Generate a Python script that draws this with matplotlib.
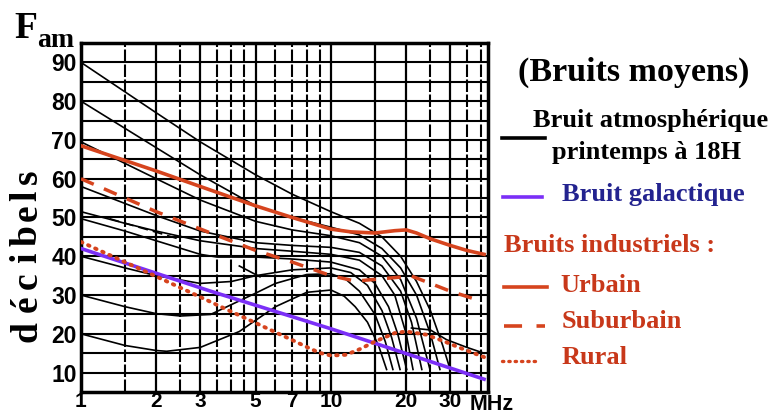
import matplotlib.pyplot as plt

# Atmospheric noise curves (spring, 18H)
c1_x = [1, 2, 3, 5, 7, 10, 13, 16, 19, 22, 25, 28, 30]
c1_y = [90, 77, 69.5, 61, 56, 51.5, 48.5, 45, 40, 33.5, 26, 17, 10.8]
c2_x = [1, 2, 3, 5, 7, 10, 13, 16, 19, 22, 25, 27.3]
c2_y = [80, 68, 61, 53, 50, 47.5, 45.5, 42, 37, 30, 20, 10.8]
c3_x = [1, 2, 3, 5, 7, 10, 13, 16, 19, 22, 24.9]
c3_y = [69.5, 60, 54.5, 49, 46.8, 45.3, 43.5, 40, 34, 24, 10.8]
c4_x = [1, 2, 3, 5, 7, 10, 13, 16, 19, 21, 23.1]
c4_y = [58, 50.5, 46.5, 43.5, 42.8, 42.3, 41, 37.5, 31, 23, 10.8]
c5_x = [1, 1.5, 2, 3, 5, 7, 10, 13, 16, 18, 20, 21.3]
c5_y = [51.5, 48.5, 46.5, 44, 42, 41.3, 40.5, 39, 35, 30, 20, 10.8]
c6_x = [1, 1.5, 2, 3, 3.5, 5, 7, 10, 13, 15, 17, 18.5, 20.1]
c6_y = [49.7, 46.5, 44, 40.5, 39.8, 39.8, 39.3, 38.5, 36.5, 33, 27, 20, 10.8]
c7_x = [1, 1.5, 2, 3, 4, 5, 7, 10, 12, 14, 16, 17.5, 18.9]
c7_y = [40, 37, 35, 33, 33.5, 35, 36.5, 37, 35.8, 32.5, 26, 19, 10.8]
c8_x = [1, 1.5, 2, 2.5, 3.3, 4.3, 5, 6, 8, 10, 11.5, 13, 15, 16.5, 17.7]
c8_y = [30, 27, 25.2, 24.6, 25, 28.5, 30.5, 33, 35.3, 35.5, 34, 31, 25, 18, 10.8]
c9_x = [1, 1.5, 2, 2.2, 3, 4.3, 5, 6, 8, 10, 11.3, 12.5, 14, 15.5, 16.7]
c9_y = [20, 17, 15.7, 15.5, 16.5, 20.6, 23.5, 27, 30.7, 31.3, 29.7, 27, 23, 17, 10.8]
c10_x = [21, 25, 29, 35, 41]
c10_y = [21.5, 21, 18.5, 16.5, 15]
c11_x = [1.3, 1.6, 2.0, 2.45]
c11_y = [49.7, 48, 46.2, 44.5]
c12_x = [4.3, 5.2]
c12_y = [37.5, 34.7]
atmo = [(c1_x, c1_y), (c2_x, c2_y), (c3_x, c3_y), (c4_x, c4_y), (c5_x, c5_y),
        (c6_x, c6_y), (c7_x, c7_y), (c8_x, c8_y), (c9_x, c9_y), (c10_x, c10_y),
        (c12_x, c12_y)]

# Galactic noise
gal_x = [1, 3.3, 10, 41]
gal_y = [42, 31, 21.3, 8.3]

# Industrial noise
urb_x = [1, 2, 3, 5, 7, 10, 12, 15, 18, 20, 22, 25, 30, 35, 41]
urb_y = [68.5, 62, 58, 53, 50, 47, 46.3, 46, 46.6, 46.8, 46, 44.5, 42.8, 41.5, 40.5]
sub_x = [1, 2, 3.3, 5, 7, 10, 12.5, 16, 21, 25, 30, 37.5]
sub_y = [60, 51.5, 46, 41.5, 38.5, 35, 33.6, 34.2, 34.9, 33, 31, 29]
rur_x = [1, 2, 3, 4, 5, 6, 7, 8, 9, 10, 11.5, 13, 15, 18, 20, 24, 28, 34, 41]
rur_y = [43.7, 34.8, 29.5, 25.7, 22.8, 20.4, 18.4, 16.6, 15.1, 14.4, 14.6, 16, 18, 20.2, 20.6,
         19.8, 18.2, 16, 14]

x_ticks = [1, 2, 3, 5, 7, 10, 20, 30]
y_ticks = [10, 20, 30, 40, 50, 60, 70, 80, 90]

RED = '#d6441e'
BLUE = '#7b2ff7'
TXT_RED = '#c8381a'
SERIF = 'Liberation Serif'
SANS = 'Liberation Sans'

fig = plt.figure(figsize=(7.77, 4.16), dpi=100)
ax = fig.add_axes([81 / 777, 1 - 392 / 416, 407 / 777, 349 / 416])
ax.set_xscale('log')
ax.set_xlim(1, 42.5)
ax.set_ylim(5, 95)

# grid: solid main lines, dashed intermediate ones
for v in [2, 3, 5, 10, 15, 20, 30]:
    ax.axvline(v, color='black', lw=1.6, zorder=1)
for v in [1.5, 2.5, 3.5, 4, 4.5, 6, 7, 8, 9, 25, 35, 40]:
    ax.axvline(v, color='black', lw=1.5, ls=(0, (6, 1.2)), zorder=1)
for v in range(10, 95, 5):
    ax.axhline(v, color='black', lw=1.5, zorder=1)

for xs, ys in atmo:
    ax.plot(xs, ys, color='black', lw=1.2, zorder=2)
ax.plot(c11_x, c11_y, color='black', lw=1.2, ls=(0, (6, 3)), zorder=2)

ax.plot(gal_x, gal_y, color=BLUE, lw=2.6, zorder=3)
ax.plot(urb_x, urb_y, color=RED, lw=2.6, zorder=3)
ax.plot(sub_x, sub_y, color=RED, lw=2.5, ls=(0, (4, 3.2)), zorder=3)
ax.plot(rur_x, rur_y, color=RED, lw=2.8, ls=(0, (0.4, 1.6)), dash_capstyle='round', zorder=3)

ax.set_xticks(x_ticks)
ax.set_xticklabels([str(v) for v in x_ticks])
ax.minorticks_off()
ax.set_yticks(y_ticks)
ax.tick_params(axis='y', length=0, labelsize=16.5, pad=3)
ax.tick_params(axis='x', length=0, labelsize=15, pad=0.3)
for lab in ax.get_xticklabels() + ax.get_yticklabels():
    lab.set_fontfamily(SANS)
    lab.set_fontweight('bold')
for s in ax.spines.values():
    s.set_linewidth(2.5)

# overlay in pixel coordinates for the labels and the key
lg = fig.add_axes([0, 0, 1, 1], zorder=5)
lg.set_xlim(0, 777)
lg.set_ylim(416, 0)
lg.axis('off')

lg.text(470, 405, 'MHz', family=SANS, weight='bold', fontsize=15.5, va='center', ha='left')
lg.text(14, 38, 'F', family=SERIF, weight='bold', fontsize=27, va='baseline')
lg.text(37, 47, 'am', family=SERIF, weight='bold', fontsize=20, va='baseline')
# vertical, letter-spaced axis title
for ch, yc in zip('décibels', [332, 304, 281, 258, 236, 213, 196, 177]):
    lg.text(27, yc, ch, family=SERIF, weight='bold', fontsize=27,
            rotation=90, ha='center', va='center')

lg.text(518, 72, '(Bruits moyens)', family=SERIF, weight='bold', fontsize=24.5, va='center')
lg.plot([502, 545], [138, 138], color='black', lw=2.6)
lg.text(533, 120, 'Bruit atmosphérique', family=SERIF, weight='bold', fontsize=19, va='center')
lg.text(552, 153, 'printemps à 18H', family=SERIF, weight='bold', fontsize=19, va='center')
lg.plot([503, 542], [197, 197], color=BLUE, lw=2.6)
lg.text(562, 195, 'Bruit galactique', family=SERIF, weight='bold', fontsize=19,
        color='#23238f', va='center')
lg.text(504, 246, 'Bruits industriels :', family=SERIF, weight='bold', fontsize=19,
        color=TXT_RED, va='center')
lg.plot([504, 547], [287, 287], color=RED, lw=2.6)
lg.text(560, 285, 'Urbain', family=SERIF, weight='bold', fontsize=19, color=TXT_RED, va='center')
lg.plot([504, 545], [326, 326], color=RED, lw=2.6, ls=(0, (5, 4)))
lg.text(562, 322, 'Suburbain', family=SERIF, weight='bold', fontsize=19, color=TXT_RED, va='center')
lg.plot([502, 540], [361, 361], color=RED, lw=2.4, ls=(0, (0.4, 1.5)), dash_capstyle='round')
lg.text(562, 357, 'Rural', family=SERIF, weight='bold', fontsize=19, color=TXT_RED, va='center')

fig.savefig('out.png', dpi=100)
